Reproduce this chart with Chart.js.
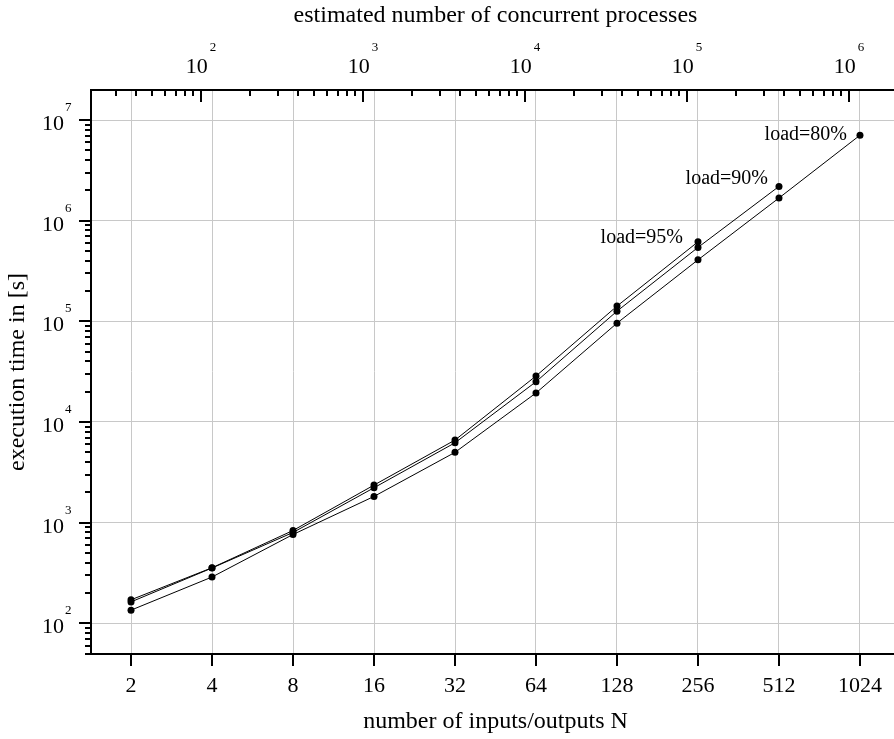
<!DOCTYPE html>
<html><head><meta charset="utf-8">
<script src="https://cdn.jsdelivr.net/npm/chart.js@4.4.0/dist/chart.umd.min.js"></script>
<style>html,body{margin:0;padding:0;background:#fff;overflow:hidden;}</style>
</head><body><canvas id="c" width="904" height="739"></canvas>
<script>
// ---- data ----
const nValues = [2, 4, 8, 16, 32, 64, 128, 256, 512, 1024];
const xTickLabels = ['2', '4', '8', '16', '32', '64', '128', '256', '512', '1024'];
const load95 = [171, 356, 835, 2360, 6610, 28600, 141600, 616000];
const load90 = [163, 354, 798, 2220, 6210, 25100, 126200, 542000, 2190000];
const load80 = [135, 288, 762, 1820, 4990, 19400, 95900, 408000, 1680000, 7060000];
const seriesLabels = ['load=95%', 'load=90%', 'load=80%'];
const yExponents = [2, 3, 4, 5, 6, 7];
const topExponents = [2, 3, 4, 5, 6];
const titleTop = 'estimated number of concurrent processes';
const titleX = 'number of inputs/outputs N';
const titleY = 'execution time in [s]';

// ---- axis ranges ----
const xMin = 2 / Math.pow(2, 0.494), xMax = 1024 * Math.pow(2, 0.494);
const yMin = 49.5, yMax = 1.987e7;
// processes axis: log10(P) = 0.5*log2(N) + 1.069
const toP = n => Math.pow(10, 0.5 * Math.log2(n) + 1.069);
const pMin = toP(xMin), pMax = toP(xMax);

const FONT = "'Liberation Serif', 'Times New Roman', serif";
const toXY = arr => arr.map((v, i) => ({x: nValues[i], y: v}));
const labelOffsets = [[-15, -4], [-11, -8], [-13, 0]];

const ds = (data) => ({data: toXY(data), borderColor: '#000', backgroundColor: '#000', borderWidth: 1,
  pointRadius: 3.5, pointBackgroundColor: '#000', pointBorderWidth: 0, fill: false, tension: 0});

function line(ctx, x1, y1, x2, y2) { ctx.beginPath(); ctx.moveTo(x1, y1); ctx.lineTo(x2, y2); ctx.stroke(); }

const decor = {
  id: 'decor',
  afterDraw(chart) {
    const ctx = chart.ctx, xs = chart.scales.x, x2 = chart.scales.x2, ys = chart.scales.y, a = chart.chartArea;
    ctx.save();
    ctx.strokeStyle = '#000'; ctx.lineWidth = 2; ctx.lineCap = 'butt';
    // bottom ticks
    nValues.forEach(v => { const px = Math.round(xs.getPixelForValue(v)); line(ctx, px, a.bottom, px, a.bottom + 12); });
    // left ticks (major + minor)
    for (let e = 1; e <= 7; e++) for (let m = 1; m <= 9; m++) {
      const v = m * Math.pow(10, e); if (v < yMin || v > yMax) continue;
      const py = Math.round(ys.getPixelForValue(v)); const len = m === 1 ? 12 : 6;
      line(ctx, a.left - len, py, a.left, py);
    }
    // top ticks (inward)
    for (let e = 1; e <= 6; e++) for (let m = 1; m <= 9; m++) {
      const v = m * Math.pow(10, e); if (v < pMin || v > pMax) continue;
      const px = Math.round(x2.getPixelForValue(v)); const len = m === 1 ? 12 : 6;
      line(ctx, px, a.top, px, a.top + len);
    }
    ctx.fillStyle = '#000';
    // bottom tick labels
    ctx.font = '22px ' + FONT; ctx.textAlign = 'center'; ctx.textBaseline = 'alphabetic';
    nValues.forEach((v, i) => ctx.fillText(xTickLabels[i], xs.getPixelForValue(v), a.bottom + 38));
    // left tick labels
    yExponents.forEach(e => {
      const py = ys.getPixelForValue(Math.pow(10, e));
      ctx.font = '22px ' + FONT; ctx.textAlign = 'right';
      ctx.fillText('10', a.left - 27, py + 10);
      ctx.font = '13px ' + FONT; ctx.textAlign = 'left';
      ctx.fillText(String(e), a.left - 26, py - 9);
    });
    // top tick labels
    topExponents.forEach(e => {
      const px = x2.getPixelForValue(Math.pow(10, e));
      ctx.font = '22px ' + FONT; ctx.textAlign = 'right';
      ctx.fillText('10', px + 7, a.top - 17);
      ctx.font = '13px ' + FONT; ctx.textAlign = 'left';
      ctx.fillText(String(e), px + 9, a.top - 39);
    });
    // titles
    const cx = (a.left + a.right) / 2, cy = (a.top + a.bottom) / 2;
    ctx.font = '24px ' + FONT; ctx.textAlign = 'center'; ctx.textBaseline = 'middle';
    ctx.fillText(titleTop, cx, 16);
    ctx.fillText(titleX, cx, a.bottom + 68);
    ctx.save(); ctx.translate(18, cy); ctx.rotate(-Math.PI / 2); ctx.fillText(titleY, 0, 0); ctx.restore();
    // series labels at last points
    ctx.font = '20px ' + FONT; ctx.textAlign = 'right'; ctx.textBaseline = 'middle';
    chart.data.datasets.forEach((d, i) => {
      const meta = chart.getDatasetMeta(i); const p = meta.data[meta.data.length - 1];
      ctx.fillText(seriesLabels[i], p.x + labelOffsets[i][0], p.y + labelOffsets[i][1]);
    });
    ctx.restore();
  }
};

new Chart(document.getElementById('c'), {
  type: 'line',
  data: {datasets: [ds(load95), ds(load90), ds(load80)]},
  options: {
    responsive: false, animation: false, parsing: true,
    layout: {padding: {left: 91, top: 90, right: 1, bottom: 85}},
    plugins: {legend: {display: false}, tooltip: {enabled: false}},
    scales: {
      x: {type: 'logarithmic', position: 'bottom', min: xMin, max: xMax,
          afterBuildTicks: s => { s.ticks = nValues.map(v => ({value: v})); },
          ticks: {display: false}, grid: {color: '#c8c8c8', lineWidth: 1, drawTicks: false},
          border: {display: true, color: '#000', width: 2}},
      x2: {type: 'logarithmic', position: 'top', min: pMin, max: pMax, display: true,
          ticks: {display: false}, grid: {display: false, drawTicks: false},
          border: {display: true, color: '#000', width: 2}},
      y: {type: 'logarithmic', position: 'left', min: yMin, max: yMax,
          afterBuildTicks: s => { s.ticks = yExponents.map(e => ({value: Math.pow(10, e)})); },
          ticks: {display: false}, grid: {color: '#c8c8c8', lineWidth: 1, drawTicks: false},
          border: {display: true, color: '#000', width: 2}}
    }
  },
  plugins: [decor]
});
</script></body></html>
